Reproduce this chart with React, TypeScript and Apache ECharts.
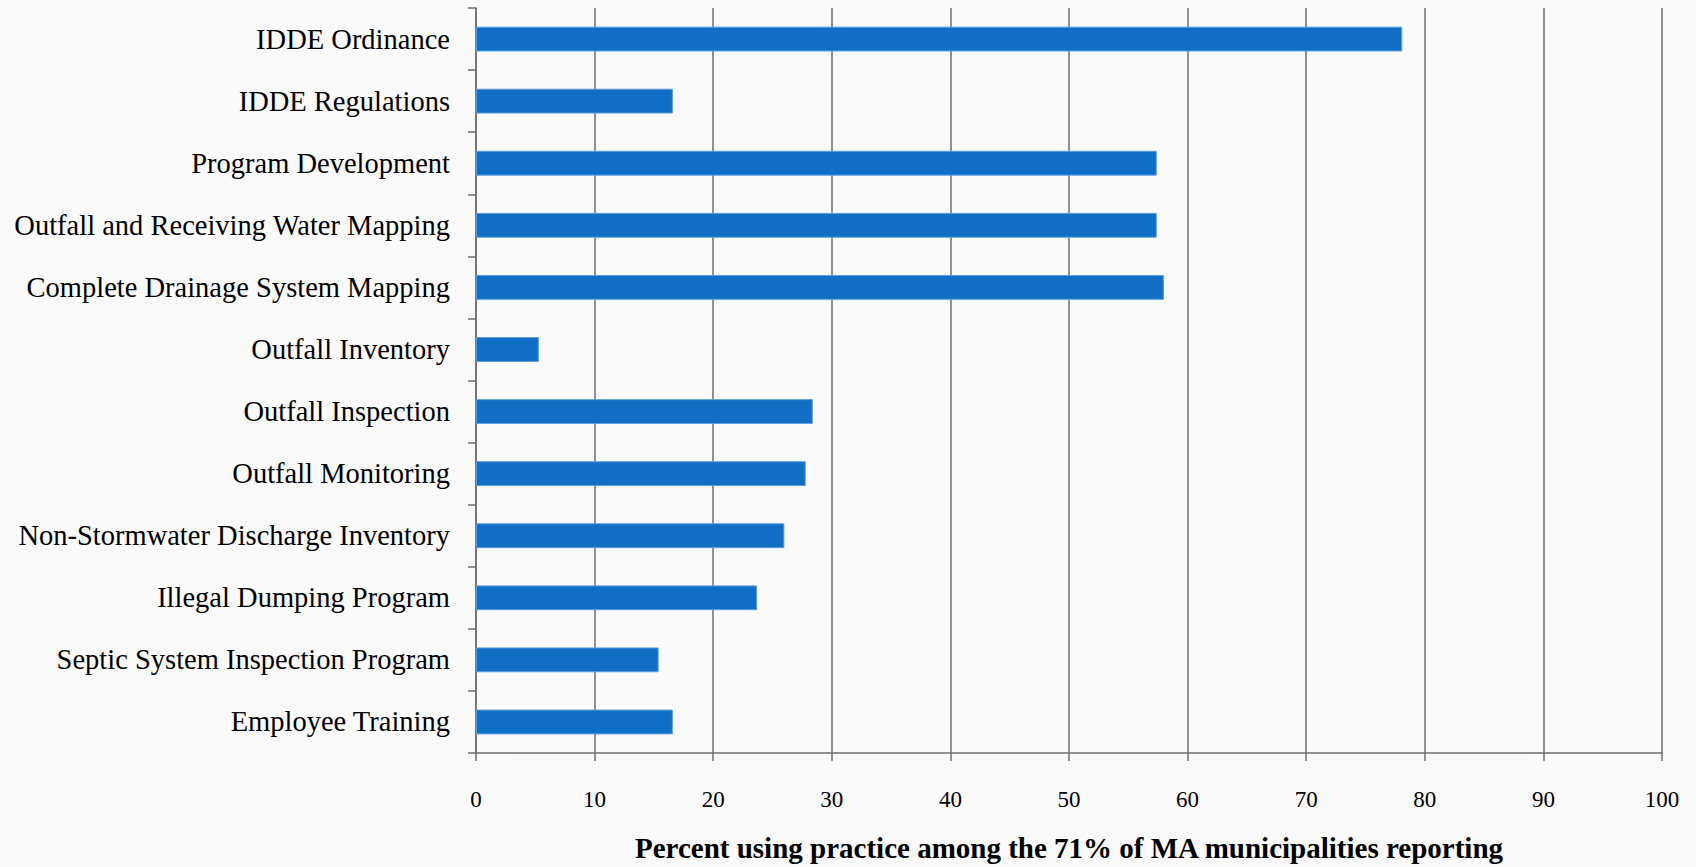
import React, { useEffect, useRef } from "react";
import * as echarts from "echarts";

const categories: string[] = [
  "IDDE Ordinance",
  "IDDE Regulations",
  "Program Development",
  "Outfall and Receiving Water Mapping",
  "Complete Drainage System Mapping",
  "Outfall Inventory",
  "Outfall Inspection",
  "Outfall Monitoring",
  "Non-Stormwater Discharge Inventory",
  "Illegal Dumping Program",
  "Septic System Inspection Program",
  "Employee Training",
];

const percentValues: number[] = [78.1, 16.6, 57.4, 57.4, 58.0, 5.3, 28.4, 27.8, 26.0, 23.7, 15.4, 16.6];

const xTickValues: number[] = [0, 10, 20, 30, 40, 50, 60, 70, 80, 90, 100];

const axisTitle = "Percent using practice among the 71% of MA municipalities reporting";

export default function App() {
  const ref = useRef<HTMLDivElement>(null);

  useEffect(() => {
    if (!ref.current) return;
    const chart = echarts.init(ref.current, null, { renderer: "svg" });
    const font = "'Liberation Serif', 'Times New Roman', serif";
    chart.setOption({
      animation: false,
      backgroundColor: "#fafafa",
      grid: { left: 476, right: 34, top: 8, bottom: 109, containLabel: false },
      xAxis: {
        type: "value",
        min: xTickValues[0],
        max: xTickValues[xTickValues.length - 1],
        interval: 10,
        name: axisTitle,
        nameLocation: "middle",
        nameGap: 80,
        nameTextStyle: { fontFamily: font, fontSize: 29, fontWeight: "bold", color: "#000" },
        axisLine: { show: true, lineStyle: { color: "#6e6e6e", width: 1.5 } },
        axisTick: { show: true, length: 8, lineStyle: { color: "#6e6e6e", width: 1.5 } },
        axisLabel: { fontFamily: font, fontSize: 23, color: "#000", margin: 35 },
        splitLine: { show: true, lineStyle: { color: "#6e6e6e", width: 1.5 } },
      },
      yAxis: {
        type: "category",
        data: categories,
        inverse: true,
        axisLine: { show: true, lineStyle: { color: "#6e6e6e", width: 1.5 } },
        axisTick: { show: true, length: 8, lineStyle: { color: "#6e6e6e", width: 1.5 } },
        axisLabel: { fontFamily: font, fontSize: 28.5, color: "#000", margin: 26 },
        splitLine: { show: false },
      },
      series: [
        {
          type: "bar",
          data: percentValues,
          barWidth: "40%",
          itemStyle: { color: "#106EC4", borderColor: "#5c9de0", borderWidth: 1 },
        },
      ],
    });
    return () => chart.dispose();
  }, []);

  return (
    <div
      ref={ref}
      style={{ position: "absolute", left: 0, top: 0, width: 1696, height: 867, overflow: "hidden" }}
    />
  );
}
